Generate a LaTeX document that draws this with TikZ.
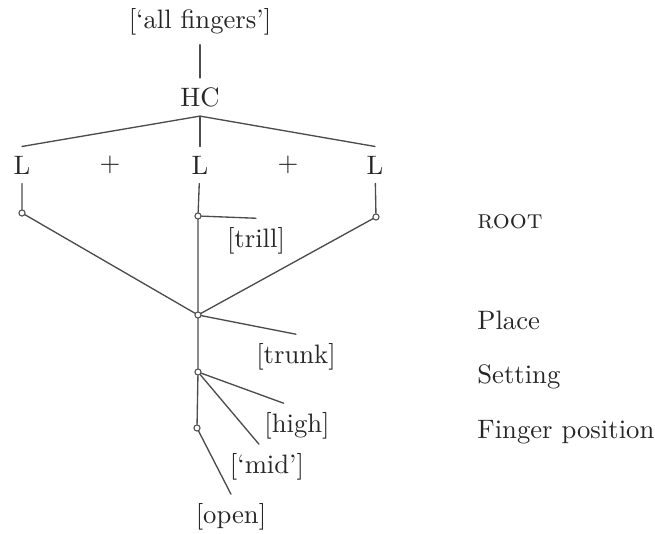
\documentclass[tikz,border=0pt]{standalone}
\usetikzlibrary{positioning}
\begin{document}
\begin{tikzpicture}[x=0.375pt, y=-0.375pt, line join=round, line cap=round,
				every node/.style={text=black!85},
				dot/.style={circle, draw=black!70, fill=white, line width=.4pt, inner sep=0pt, minimum size=2.3pt},
				tier/.style={anchor=west},
				branch/.style={draw=black!70, line width=.5pt}]
				\useasboundingbox (0,0) rectangle (655,534);
				\path 
				(200,22) node (fing) {[`all fingers']}
				(200,97) node (hc) {HC}
				(22,165) node (la) {L}
				(110,165) node (pa) {+}
				(200,165) node (lb) {L}
				(288,165) node (pb) {+}
				(375,165) node (lc) {L}
				(22,213) node[dot] (ra) {}
				(198,216) node[dot] (rb) {}
				(376,217) node[dot] (rc) {}
				(198,315) node[dot] (place) {}
				(198,372) node[dot] (set) {}
				(197,428) node[dot] (fpos) {}
				(256,241) node (trill) {[trill]}
				(296,357) node (trunk) {[trunk]}
				(297,426) node (high) {[high]}
				(267,467) node (mid) {[`mid']}
				(231,517) node (open) {[open]}
				(468,222) node[tier] (troot) {\textsc{root}}
				(468,320) node[tier] (tplace) {Place}
				(468,377) node[tier] (tset) {Setting}
				(468,432) node[tier] (tfpos) {Finger position};
				\draw[branch] (fing)--(hc);
				\draw[branch] (la.north)--(hc.south)--(lc.north);
				\draw[branch] (hc.south)--(lb.north);
				\draw[branch] (la)--(ra) (lb)--(rb) (lc)--(rc);
				\draw[branch] (rb)--(trill.north);
				\draw[branch] (ra)--(place)--(rc) (rb)--(place);
				\draw[branch] (place)--(trunk.north) (place)--(set);
				\draw[branch] (set)--([xshift=-5pt]high.north) (set)--([xshift=-3pt]mid.north) (set)--(fpos);
				\draw[branch] (fpos)--(open.north);
				\end{tikzpicture}
\end{document}
